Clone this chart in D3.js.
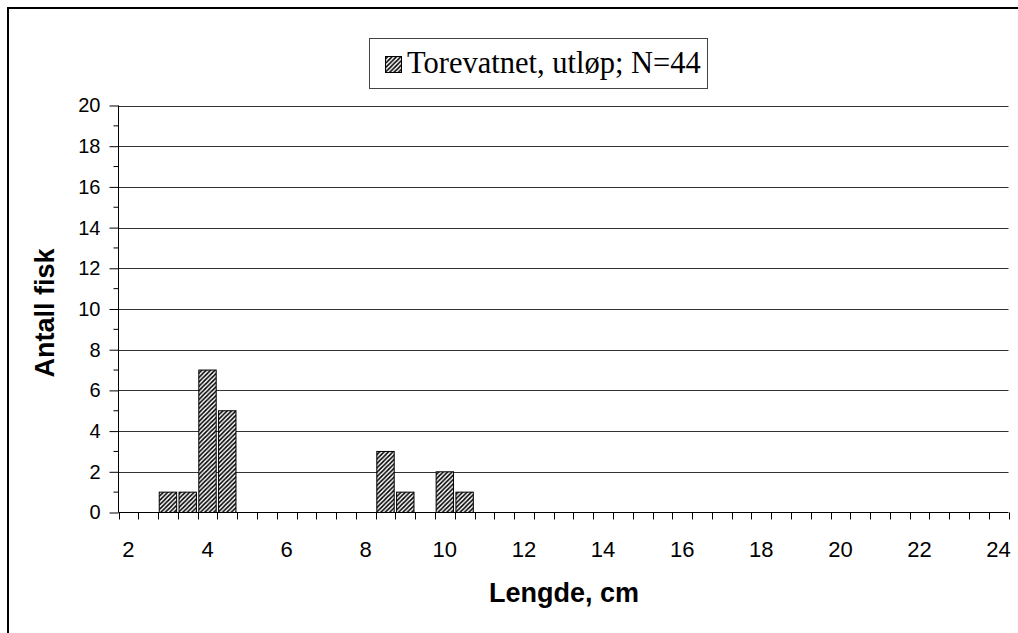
<!DOCTYPE html>
<html><head><meta charset="utf-8">
<script src="https://cdn.jsdelivr.net/npm/d3@7"></script>
<style>
html,body{margin:0;padding:0;background:#fff;}
svg{display:block;}
</style></head>
<body>
<svg id="chart" width="1018" height="633"></svg>
<script>
// Data
const categories = ["2","2.5","3","3.5","4","4.5","5","5.5","6","6.5","7","7.5","8","8.5","9","9.5","10","10.5","11","11.5","12","12.5","13","13.5","14","14.5","15","15.5","16","16.5","17","17.5","18","18.5","19","19.5","20","20.5","21","21.5","22","22.5","23","23.5","24"];
const counts =     [0,0,1,1,7,5,0,0,0,0,0,0,0,3,1,0,2,1,0,0,0,0,0,0,0,0,0,0,0,0,0,0,0,0,0,0,0,0,0,0,0,0,0,0,0];
const xTickLabels = ["2","4","6","8","10","12","14","16","18","20","22","24"];
const yMajorTicks = [0,2,4,6,8,10,12,14,16,18,20];
const yMinorTicks = [1,3,5,7,9,11,13,15,17,19];
const seriesName = "Torevatnet, utløp; N=44";
const xTitle = "Lengde, cm";
const yTitle = "Antall fisk";

(function(){
const svg = d3.select("#chart");
const pL = 118.5, pR = 1008.5, pT = 105.5, pB = 512.5;

const x = d3.scaleBand().domain(categories).range([pL, pR]).padding(0);
const y = d3.scaleLinear().domain([0, 20]).range([pB, pT]);

// pattern
const defs = svg.append("defs");
const pat = defs.append("pattern").attr("id","hatch").attr("patternUnits","userSpaceOnUse")
  .attr("width",4.4).attr("height",4.4);
pat.append("rect").attr("width",4.4).attr("height",4.4).attr("fill","#fff");
pat.append("path").attr("d","M-1.1,1.1 L1.1,-1.1 M0,4.4 L4.4,0 M3.3,5.5 L5.5,3.3")
  .attr("stroke","#000").attr("stroke-width",1.6);

// outer frame (top and left)
svg.append("path").attr("d","M8,633 L8,8 L1018,8").attr("fill","none").attr("stroke","#000").attr("stroke-width",2);

// gridlines
svg.append("g").selectAll("line").data(yMajorTicks.filter(d=>d>0)).join("line")
  .attr("x1",pL).attr("x2",pR)
  .attr("y1",d=>Math.round(y(d))+0.5).attr("y2",d=>Math.round(y(d))+0.5)
  .attr("stroke","#333").attr("stroke-width",1);

// bars
const bw = x.bandwidth()*0.88;
svg.append("g").selectAll("rect").data(categories.map((c,i)=>({c, v:counts[i]})).filter(d=>d.v>0)).join("rect")
  .attr("x", d=>x(d.c) + (x.bandwidth()-bw)/2)
  .attr("width", bw)
  .attr("y", d=>y(d.v))
  .attr("height", d=>y(0)-y(d.v))
  .attr("fill","url(#hatch)").attr("stroke","#000").attr("stroke-width",1);

// y axis
const yAxis = d3.axisLeft(y).tickValues(yMajorTicks).tickSize(9).tickPadding(9).tickFormat(d3.format("d"));
const gy = svg.append("g").attr("transform",`translate(${pL},0)`).call(yAxis);
gy.select(".domain").attr("d",`M0,${pT}V${pB}`).attr("stroke","#000");
gy.selectAll(".tick line").attr("stroke","#000");
gy.selectAll(".tick text").attr("font-family","Arial, 'Liberation Sans', sans-serif").attr("font-size",20).attr("fill","#000");
svg.append("g").selectAll("line").data(yMinorTicks).join("line")
  .attr("x1",pL-5).attr("x2",pL).attr("y1",d=>y(d)).attr("y2",d=>y(d)).attr("stroke","#000");

// x axis
svg.append("line").attr("x1",pL).attr("x2",pR).attr("y1",pB).attr("y2",pB).attr("stroke","#000");
const edges = categories.map(c=>x(c)).concat([pR]);
svg.append("g").selectAll("line").data(edges).join("line")
  .attr("x1",d=>Math.round(d)+0.5).attr("x2",d=>Math.round(d)+0.5).attr("y1",pB).attr("y2",pB+7).attr("stroke","#000");
svg.append("g").selectAll("text").data(xTickLabels).join("text")
  .attr("x",d=>x(d)+x.bandwidth()/2).attr("y",557)
  .attr("text-anchor","middle")
  .attr("font-family","Arial, 'Liberation Sans', sans-serif").attr("font-size",22).attr("fill","#000")
  .text(d=>d);

// axis titles
svg.append("text").attr("x",564).attr("y",602).attr("text-anchor","middle")
  .attr("font-family","Arial, 'Liberation Sans', sans-serif").attr("font-weight","bold").attr("font-size",27)
  .text(xTitle);
svg.append("text").attr("transform","translate(54,313) rotate(-90)").attr("text-anchor","middle")
  .attr("font-family","Arial, 'Liberation Sans', sans-serif").attr("font-weight","bold").attr("font-size",27)
  .text(yTitle);

// legend
svg.append("rect").attr("x",369.5).attr("y",38.5).attr("width",338).attr("height",50)
  .attr("fill","#fff").attr("stroke","#444").attr("stroke-width",1);
svg.append("rect").attr("x",385.5).attr("y",56.5).attr("width",16).attr("height",16)
  .attr("fill","url(#hatch)").attr("stroke","#000").attr("stroke-width",1);
svg.append("text").attr("x",407).attr("y",73)
  .attr("font-family","'Times New Roman', 'Liberation Serif', serif").attr("font-size",30.5).attr("fill","#000")
  .text(seriesName);
})();
</script>
</body></html>
